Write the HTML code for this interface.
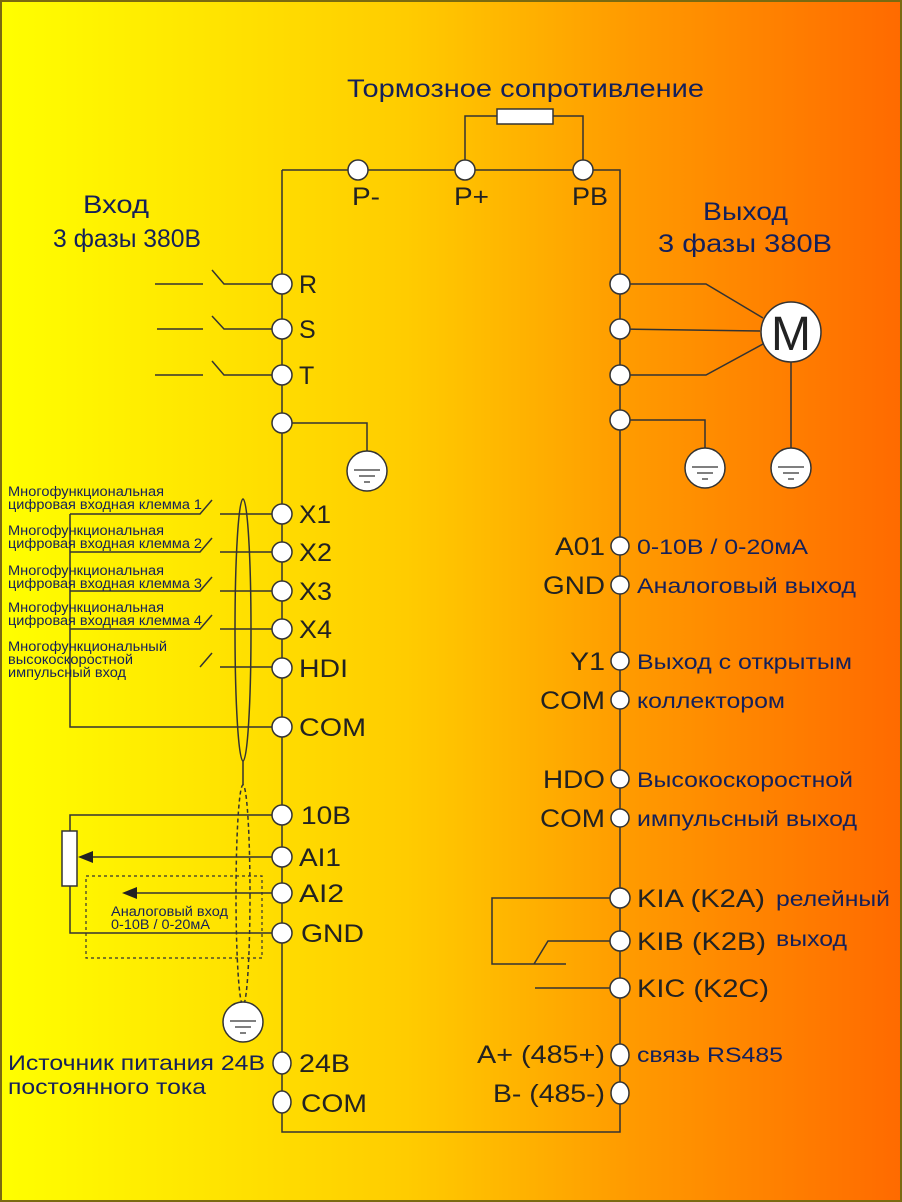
<!DOCTYPE html>
<html><head><meta charset="utf-8"><style>
html,body{margin:0;padding:0;width:902px;height:1202px;overflow:hidden}
svg{display:block}
text{font-family:"Liberation Sans",sans-serif}
.t{fill:#222;font-size:25px}
.d{fill:#14205a}
</style></head><body>
<svg width="902" height="1202" viewBox="0 0 902 1202" xmlns="http://www.w3.org/2000/svg">
<defs><linearGradient id="g" x1="0" x2="1" y1="0" y2="0">
<stop offset="0" stop-color="#ffff00"/><stop offset="0.45" stop-color="#ffcc00"/><stop offset="0.7" stop-color="#ff9a00"/><stop offset="1" stop-color="#ff6a00"/></linearGradient></defs>
<rect x="0" y="0" width="902" height="1202" fill="url(#g)"/>
<rect x="1" y="1" width="900" height="1200" fill="none" stroke="#7a6a10" stroke-width="2"/>
<g stroke="#333" stroke-width="1.5" fill="none">
<path d="M282 170V1132H620V170H282"/>
<path d="M465 170V116H497M553 116H583V170"/>
<path d="M155 284H203M212 270L224 284H272M157 329H203M212 316L224 329H272M155 375H203M212 361L224 375H272"/>
<path d="M282 423H367V451"/>
<path d="M620 284H706L763 318M620 329L760 331M620 375H706L763 344M791 362V450M620 420H705V450"/>
<path d="M70 514H200L212 500M220 514H272M70 552H200L212 538M220 552H272M70 591H200L212 577M220 591H272M70 629H200L212 615M220 629H272M200 667L212 653M220 667H272M70 514V727H272"/>
<ellipse cx="243" cy="630" rx="8" ry="131"/>
<path d="M243 761V785M243 1002V1008"/>
<ellipse cx="243" cy="895" rx="7" ry="110" stroke-dasharray="4,3"/>
<rect x="86" y="876" width="176" height="82" stroke-dasharray="3,3" stroke-width="1.2"/>
<path d="M70 831V815H272M70 886V933H272M90 857H272M135 893H272"/>
<path d="M610 898H492V964H566M610 941H548L534 964M535 988H610"/>
</g>
<polygon points="78,857 93,851 93,863" fill="#222"/>
<polygon points="122,893 137,887 137,899" fill="#222"/>
<rect x="62" y="831" width="15" height="55" fill="#fff" stroke="#333" stroke-width="1.5"/>
<rect x="497" y="109" width="56" height="15" fill="#fff" stroke="#333" stroke-width="1.5"/>
<g fill="#fff" stroke="#333" stroke-width="1.5">
<circle cx="358" cy="170" r="10"/><circle cx="465" cy="170" r="10"/><circle cx="583" cy="170" r="10"/>
<circle cx="282" cy="284" r="10"/><circle cx="282" cy="329" r="10"/><circle cx="282" cy="375" r="10"/><circle cx="282" cy="423" r="10"/>
<circle cx="282" cy="514" r="10"/><circle cx="282" cy="552" r="10"/><circle cx="282" cy="591" r="10"/><circle cx="282" cy="629" r="10"/><circle cx="282" cy="668" r="10"/><circle cx="282" cy="727" r="10"/>
<circle cx="282" cy="815" r="10"/><circle cx="282" cy="857" r="10"/><circle cx="282" cy="893" r="10"/><circle cx="282" cy="933" r="10"/>
<ellipse cx="282" cy="1063" rx="9" ry="11"/><ellipse cx="282" cy="1102" rx="9" ry="11"/>
<circle cx="620" cy="284" r="10"/><circle cx="620" cy="329" r="10"/><circle cx="620" cy="375" r="10"/><circle cx="620" cy="420" r="10"/>
<circle cx="620" cy="546" r="9"/><circle cx="620" cy="585" r="9"/><circle cx="620" cy="661" r="9"/><circle cx="620" cy="700" r="9"/><circle cx="620" cy="779" r="9"/><circle cx="620" cy="818" r="9"/>
<circle cx="620" cy="898" r="10"/><circle cx="620" cy="941" r="10"/><circle cx="620" cy="988" r="10"/>
<ellipse cx="620" cy="1055" rx="9" ry="11"/><ellipse cx="620" cy="1093" rx="9" ry="11"/>
<circle cx="791" cy="332" r="30"/>
<circle cx="367" cy="471" r="20"/><circle cx="705" cy="468" r="20"/><circle cx="791" cy="468" r="20"/><circle cx="243" cy="1022" r="20"/>
</g>
<g stroke="#333" stroke-width="1.3">
<path d="M354 470H380M359 476H375M364 482H370"/>
<path d="M692 467H718M697 473H713M702 479H708"/>
<path d="M778 467H804M783 473H799M788 479H794"/>
<path d="M230 1021H256M235 1027H251M240 1033H246"/>
</g>
<text x="791" y="350" font-size="48" fill="#222" text-anchor="middle">M</text>
<g class="d" font-size="25" lengthAdjust="spacingAndGlyphs">
<text x="347" y="97" textLength="357" lengthAdjust="spacingAndGlyphs">Тормозное сопротивление</text>
<text x="83" y="213" textLength="66" lengthAdjust="spacingAndGlyphs">Вход</text>
<text x="53" y="247" textLength="148" lengthAdjust="spacingAndGlyphs">3 фазы 380В</text>
<text x="703" y="220" textLength="85" lengthAdjust="spacingAndGlyphs">Выход</text>
<text x="658" y="252" textLength="174" lengthAdjust="spacingAndGlyphs">3 фазы 380В</text>
</g>
<g class="t">
<text x="352" y="205" textLength="28" lengthAdjust="spacingAndGlyphs">P-</text>
<text x="454" y="205" textLength="35" lengthAdjust="spacingAndGlyphs">P+</text>
<text x="572" y="205" textLength="36" lengthAdjust="spacingAndGlyphs">PB</text>
<text x="299" y="293">R</text><text x="299" y="338">S</text><text x="299" y="384">T</text>
<text x="299" y="523" textLength="32" lengthAdjust="spacingAndGlyphs">X1</text>
<text x="299" y="561" textLength="33" lengthAdjust="spacingAndGlyphs">X2</text>
<text x="299" y="600" textLength="33" lengthAdjust="spacingAndGlyphs">X3</text>
<text x="299" y="638" textLength="33" lengthAdjust="spacingAndGlyphs">X4</text>
<text x="299" y="677" textLength="49" lengthAdjust="spacingAndGlyphs">HDI</text>
<text x="299" y="736" textLength="67" lengthAdjust="spacingAndGlyphs">COM</text>
<text x="301" y="824" textLength="50" lengthAdjust="spacingAndGlyphs">10В</text>
<text x="299" y="866" textLength="42" lengthAdjust="spacingAndGlyphs">AI1</text>
<text x="299" y="902" textLength="45" lengthAdjust="spacingAndGlyphs">AI2</text>
<text x="301" y="942" textLength="63" lengthAdjust="spacingAndGlyphs">GND</text>
<text x="299" y="1072" textLength="51" lengthAdjust="spacingAndGlyphs">24В</text>
<text x="301" y="1112" textLength="66" lengthAdjust="spacingAndGlyphs">COM</text>
<text x="555" y="555" textLength="50" lengthAdjust="spacingAndGlyphs">A01</text>
<text x="543" y="594" textLength="62" lengthAdjust="spacingAndGlyphs">GND</text>
<text x="570" y="670" textLength="35" lengthAdjust="spacingAndGlyphs">Y1</text>
<text x="540" y="709" textLength="65" lengthAdjust="spacingAndGlyphs">COM</text>
<text x="543" y="788" textLength="62" lengthAdjust="spacingAndGlyphs">HDO</text>
<text x="540" y="827" textLength="65" lengthAdjust="spacingAndGlyphs">COM</text>
<text x="477" y="1063" textLength="128" lengthAdjust="spacingAndGlyphs">A+ (485+)</text>
<text x="493" y="1102" textLength="112" lengthAdjust="spacingAndGlyphs">B- (485-)</text>
<text x="637" y="907" textLength="128" lengthAdjust="spacingAndGlyphs">KIA (K2A)</text>
<text x="637" y="950" textLength="129" lengthAdjust="spacingAndGlyphs">KIB (K2B)</text>
<text x="637" y="997" textLength="132" lengthAdjust="spacingAndGlyphs">KIC (K2C)</text>
</g>
<g class="d" font-size="21">
<text x="637" y="554" textLength="171" lengthAdjust="spacingAndGlyphs">0-10В / 0-20мА</text>
<text x="637" y="593" textLength="219" lengthAdjust="spacingAndGlyphs">Аналоговый выход</text>
<text x="637" y="669" textLength="215" lengthAdjust="spacingAndGlyphs">Выход с открытым</text>
<text x="637" y="708" textLength="148" lengthAdjust="spacingAndGlyphs">коллектором</text>
<text x="637" y="787" textLength="216" lengthAdjust="spacingAndGlyphs">Высокоскоростной</text>
<text x="637" y="826" textLength="220" lengthAdjust="spacingAndGlyphs">импульсный выход</text>
<text x="776" y="906" textLength="114" lengthAdjust="spacingAndGlyphs">релейный</text>
<text x="776" y="946" textLength="71" lengthAdjust="spacingAndGlyphs">выход</text>
<text x="637" y="1062" textLength="146" lengthAdjust="spacingAndGlyphs">связь RS485</text>
<text x="8" y="1070" textLength="257" lengthAdjust="spacingAndGlyphs">Источник питания 24В</text>
<text x="8" y="1094" textLength="198" lengthAdjust="spacingAndGlyphs">постоянного тока</text>
</g>
<g class="d" font-size="13.5">
<text x="8" y="496" textLength="156" lengthAdjust="spacingAndGlyphs">Многофункциональная</text><text x="8" y="509" textLength="194" lengthAdjust="spacingAndGlyphs">цифровая входная клемма 1</text>
<text x="8" y="535" textLength="156" lengthAdjust="spacingAndGlyphs">Многофункциональная</text><text x="8" y="548" textLength="194" lengthAdjust="spacingAndGlyphs">цифровая входная клемма 2</text>
<text x="8" y="575" textLength="156" lengthAdjust="spacingAndGlyphs">Многофункциональная</text><text x="8" y="588" textLength="194" lengthAdjust="spacingAndGlyphs">цифровая входная клемма 3</text>
<text x="8" y="612" textLength="156" lengthAdjust="spacingAndGlyphs">Многофункциональная</text><text x="8" y="625" textLength="194" lengthAdjust="spacingAndGlyphs">цифровая входная клемма 4</text>
<text x="8" y="651" textLength="159" lengthAdjust="spacingAndGlyphs">Многофункциональный</text><text x="8" y="664" textLength="125" lengthAdjust="spacingAndGlyphs">высокоскоростной</text><text x="8" y="677" textLength="118" lengthAdjust="spacingAndGlyphs">импульсный вход</text>
<text x="111" y="916" textLength="117" lengthAdjust="spacingAndGlyphs">Аналоговый вход</text><text x="111" y="929" textLength="99" lengthAdjust="spacingAndGlyphs">0-10В / 0-20мА</text>
</g>
</svg>
</body></html>
